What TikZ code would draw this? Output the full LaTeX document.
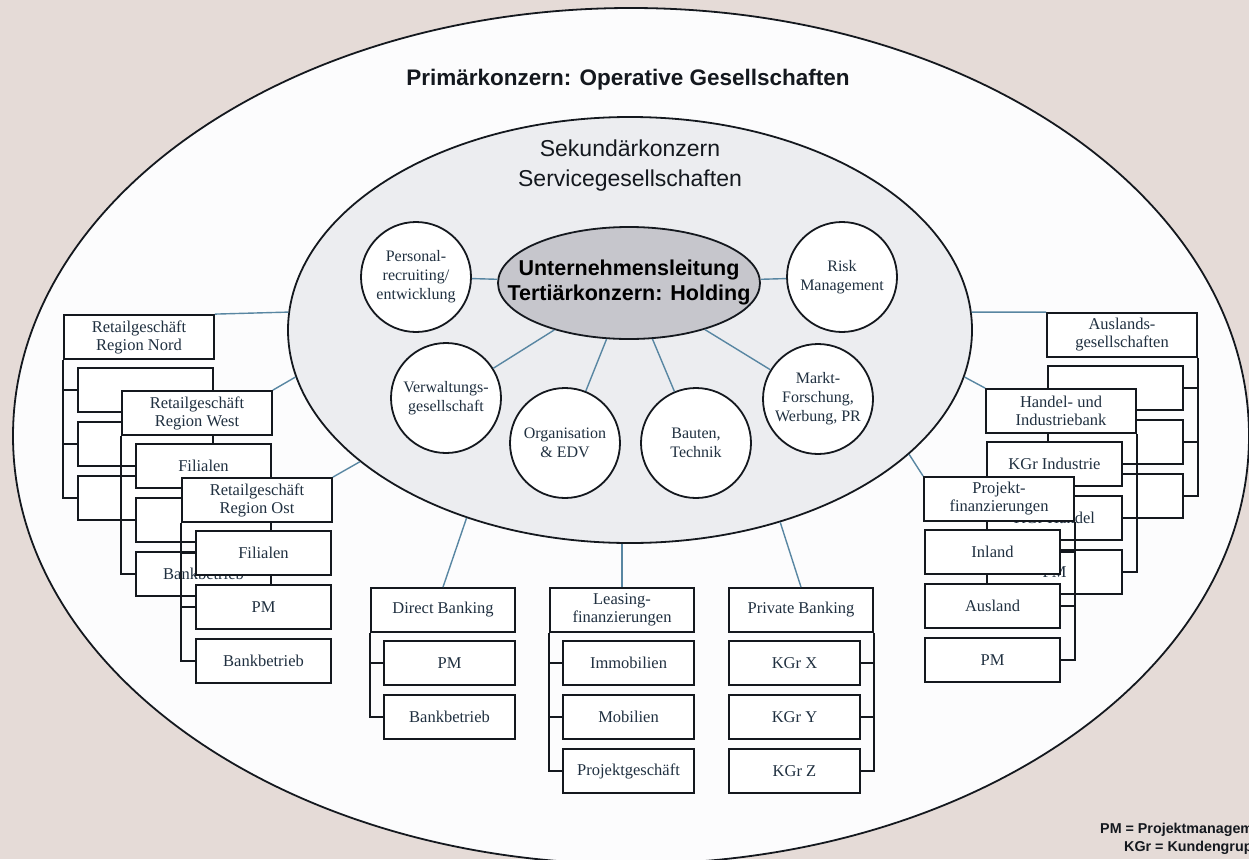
\documentclass[tikz,border=0pt]{standalone}
\usepackage{fontspec}
\setmainfont{Liberation Serif}
\newfontfamily\sansf{Liberation Sans}
\usetikzlibrary{shapes.geometric}
\definecolor{bgc}{RGB}{229,219,215}
\definecolor{outc}{RGB}{252,252,253}
\definecolor{midc}{RGB}{236,237,240}
\definecolor{holdc}{RGB}{198,198,204}
\definecolor{connc}{RGB}{88,134,162}
\definecolor{txtc}{RGB}{32,48,64}
\definecolor{linec}{RGB}{20,24,30}
\newcommand\mkLstack[7]{%
  \node[stitle] (#1T) at ({#2+75},{#3+22}) {#4};
  \node[schild] (#1A) at ({#2+81.5},{#3+75}) {#5};
  \node[schild] (#1B) at ({#2+81.5},{#3+129}) {#6};
  \node[schild] (#1C) at ({#2+81.5},{#3+183}) {#7};
  \draw[brk] (#1T.south west) |- (#1C.west);
  \draw[brk] (#1T.south west |- #1A.west) -- (#1A.west);
  \draw[brk] (#1T.south west |- #1B.west) -- (#1B.west);
}
\newcommand\mkRstack[7]{%
  \node[stitle] (#1T) at ({#2-75},{#3+22}) {#4};
  \node[schild] (#1A) at ({#2-81.5},{#3+75}) {#5};
  \node[schild] (#1B) at ({#2-81.5},{#3+129}) {#6};
  \node[schild] (#1C) at ({#2-81.5},{#3+183}) {#7};
  \draw[brk] (#1T.south east) |- (#1C.east);
  \draw[brk] (#1T.south east |- #1A.east) -- (#1A.east);
  \draw[brk] (#1T.south east |- #1B.east) -- (#1B.east);
}
\begin{document}
\begin{tikzpicture}[x=1pt,y=-1pt,
  stitle/.style={draw=linec,line width=1.8pt,fill=white,minimum width=150pt,minimum height=44pt,inner sep=1pt,align=center,text=txtc,font=\fontsize{16.5}{18}\selectfont},
  schild/.style={stitle,minimum width=135pt},
  btitle/.style={stitle,minimum width=144pt},
  bchild/.style={stitle,minimum width=131pt},
  circ/.style={circle,draw=linec,line width=1.8pt,fill=white,minimum size=110pt,inner sep=0pt,align=center,text=txtc,font=\fontsize{16}{19}\selectfont},
  conn/.style={draw=connc,line width=1.4pt},
  brk/.style={draw=linec,line width=1.8pt},
]
\useasboundingbox (0,0) rectangle (1249,859);
\fill[bgc] (0,0) rectangle (1249,859);
\begin{scope}
\clip (0,0) rectangle (1249,859);
\node[ellipse,draw=linec,line width=1.8pt,fill=outc,minimum width=1236pt,minimum height=856pt,inner sep=0pt] (prim) at (631,436) {};
\node[anchor=south west,text=linec,font=\sansf\bfseries\fontsize{14.3}{16}\selectfont,inner sep=0pt] (leg1) at (1100,837) {PM = Projektmanagement};
\node[anchor=south west,text=linec,font=\sansf\bfseries\fontsize{14.3}{16}\selectfont,inner sep=0pt] (leg2) at (1124,855) {KGr = Kundengruppe};
\end{scope}
\node[anchor=base,text=linec,font=\sansf\bfseries\fontsize{22.5}{26}\selectfont] (primtxt) at (628,85) {Primärkonzern: Operative Gesellschaften};
% secondary ellipse
\node[ellipse,draw=linec,line width=1.8pt,fill=midc,minimum width=684pt,minimum height=426pt,inner sep=0pt] (sek) at (630,330) {};
\node[align=center,text=linec,font=\sansf\fontsize{23}{30}\selectfont] (sektxt) at (630,166) {Sekundärkonzern\\Servicegesellschaften};
% holding
\node[ellipse,draw=linec,line width=1.8pt,fill=holdc,minimum width=262pt,minimum height=112pt,inner sep=0pt] (hold) at (629,283) {};
\node[align=center,text=black,font=\sansf\bfseries\fontsize{21.5}{25}\selectfont,inner sep=0pt] (holdtxt) at (629,282) {Unternehmensleitung\\Tertiärkonzern: Holding};
% circles
\node[circ] (pers) at (416,277) {Personal-\\recruiting/\\entwicklung};
\node[circ] (risk) at (842,277) {Risk\\Management};
\node[circ] (verw) at (446,398) {Verwaltungs-\\gesellschaft};
\node[circ] (org) at (565,443) {Organisation\\\&~EDV};
\node[circ] (bau) at (696,443) {Bauten,\\Technik};
\node[circ] (markt) at (818,399) {Markt-\\Forschung,\\Werbung, PR};
\foreach \c in {pers,risk,verw,org,bau,markt} {\draw[conn] (hold) -- (\c);}
% left stacks
\mkLstack{nord}{64}{315}{Retailgeschäft\\Region Nord}{}{}{}
\mkLstack{west}{122}{391}{Retailgeschäft\\Region West}{Filialen}{}{Bankbetrieb}
\mkLstack{ost}{182}{478}{Retailgeschäft\\Region Ost}{Filialen}{PM}{Bankbetrieb}
% right stacks
\mkRstack{aus}{1197}{313}{Auslands-\\gesellschaften}{}{}{}
\mkRstack{hand}{1136}{389}{Handel- und\\Industriebank}{KGr Industrie}{KGr Handel}{PM}
\mkRstack{proj}{1074}{477}{Projekt-\\finanzierungen}{Inland}{Ausland}{PM}
% bottom groups
\node[btitle] (dbT) at (443,610) {Direct Banking};
\node[bchild] (dbA) at (449.5,663) {PM};
\node[bchild] (dbB) at (449.5,717) {Bankbetrieb};
\draw[brk] (dbT.south west) |- (dbB.west);
\draw[brk] (dbT.south west |- dbA.west) -- (dbA.west);
\node[btitle] (leaseT) at (622,610) {Leasing-\\finanzierungen};
\node[bchild] (leaseA) at (628.5,663) {Immobilien};
\node[bchild] (leaseB) at (628.5,717) {Mobilien};
\node[bchild] (leaseC) at (628.5,771) {Projektgeschäft};
\draw[brk] (leaseT.south west) |- (leaseC.west);
\draw[brk] (leaseT.south west |- leaseA.west) -- (leaseA.west);
\draw[brk] (leaseT.south west |- leaseB.west) -- (leaseB.west);
\node[btitle] (pbT) at (801,610) {Private Banking};
\node[bchild] (pbA) at (794.5,663) {KGr X};
\node[bchild] (pbB) at (794.5,717) {KGr Y};
\node[bchild] (pbC) at (794.5,771) {KGr Z};
\draw[brk] (pbT.south east) |- (pbC.east);
\draw[brk] (pbT.south east |- pbA.east) -- (pbA.east);
\draw[brk] (pbT.south east |- pbB.east) -- (pbB.east);
% connectors from secondary ellipse
\draw[conn] (nordT.north east) -- (sek.177.5);
\draw[conn] (westT.north east) -- (sek.188.7);
\draw[conn] (ostT.north east) -- (sek.206);
\draw[conn] (dbT.north) -- (sek.229);
\draw[conn] (leaseT.north) -- (leaseT.north |- sek.south);
\draw[conn] (pbT.north) -- (sek.308.3);
\draw[conn] (ausT.north west) -- (sek.3);
\draw[conn] (handT.north west) -- (sek.352);
\draw[conn] (projT.north west) -- (sek.336.4);
\end{tikzpicture}
\end{document}
